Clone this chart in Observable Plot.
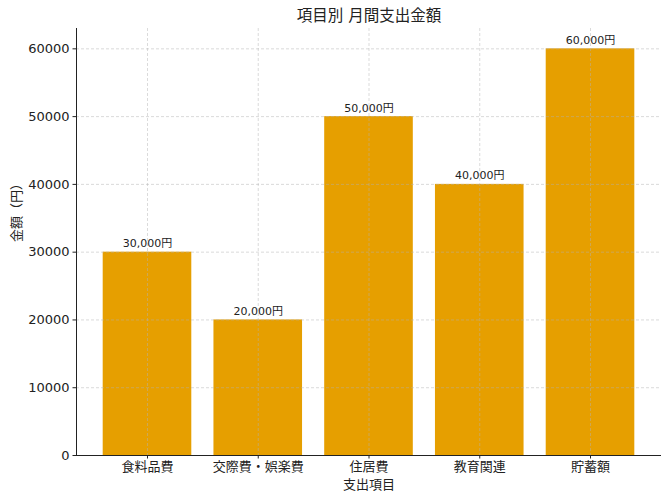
<!DOCTYPE html>
<html>
<head>
<meta charset="utf-8">
<script src="https://cdn.jsdelivr.net/npm/d3@7"></script>
<script src="https://cdn.jsdelivr.net/npm/@observablehq/plot@0.6"></script>
<style>
  body { margin: 0; background: #fff; }
  svg { font-family: "DejaVu Sans", "Noto Sans CJK JP", sans-serif; }
</style>
</head>
<body>
<div id="chart"></div>
<script>
const title = "項目別 月間支出金額";
const xLabel = "支出項目";
const yLabel = "金額（円）";
const categories = ["食料品費", "交際費・娯楽費", "住居費", "教育関連", "貯蓄額"];
const values = [30000, 20000, 50000, 40000, 60000];
const yTicks = [0, 10000, 20000, 30000, 40000, 50000, 60000];

const data = categories.map((c, i) => ({cat: c, value: values[i]}));
const font = "'DejaVu Sans', 'Noto Sans CJK JP', sans-serif";

const chart = Plot.plot({
  width: 670,
  height: 500,
  marginLeft: 76,
  marginRight: 9,
  marginTop: 28,
  marginBottom: 45,
  style: {fontFamily: font, color: "#222", background: "#fff"},
  x: {type: "band", domain: categories, paddingInner: 0.2, paddingOuter: 0.241, align: 0.5, round: false, label: null},
  y: {domain: [0, 63000], label: null},
  marks: [
    Plot.barY(data, {x: "cat", y: "value", fill: "#E69F00"}),
    Plot.gridY(yTicks, {stroke: "#b0b0b0", strokeOpacity: 0.6, strokeDasharray: "3,2", strokeWidth: 0.8}),
    Plot.gridX(categories, {stroke: "#b0b0b0", strokeOpacity: 0.6, strokeDasharray: "3,2", strokeWidth: 0.8}),
    Plot.ruleY([0], {stroke: "#222", strokeWidth: 1}),
    Plot.frame({anchor: "left", stroke: "#222", strokeWidth: 1}),
    Plot.axisY(yTicks, {tickSize: 3.5, tickPadding: 3.5, fontSize: 13, tickFormat: d3.format("d"), label: null, stroke: "#222", fill: "#222"}),
    Plot.axisX({tickSize: 3.5, tickPadding: 3, fontSize: 13, label: null, stroke: "#222", fill: "#222"}),
    Plot.text(data, {x: "cat", y: "value", text: d => d3.format(",")(d.value) + "円", dy: -5, lineAnchor: "bottom", fontSize: 11, fill: "#222"}),
    Plot.text([title], {frameAnchor: "top", dy: -12, lineAnchor: "middle", fontSize: 15.5, fill: "#222"}),
    Plot.text([xLabel], {frameAnchor: "bottom", dy: 29, lineAnchor: "middle", fontSize: 13, fill: "#222"}),
    Plot.text([yLabel], {frameAnchor: "left", dx: -60, rotate: -90, lineAnchor: "middle", fontSize: 13, fill: "#222"})
  ]
});
document.getElementById("chart").appendChild(chart);
</script>
</body>
</html>
